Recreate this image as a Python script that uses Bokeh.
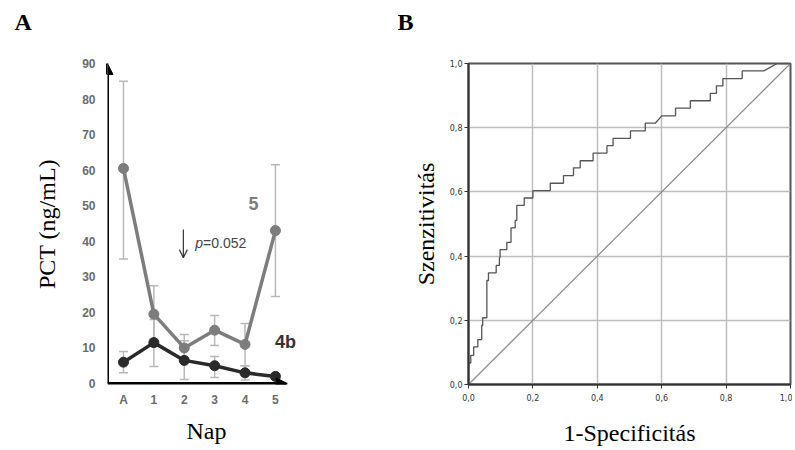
from bokeh.plotting import figure
from bokeh.layouts import row
from bokeh.models import (FixedTicker, Label, Arrow, NormalHead, OpenHead)
from bokeh.embed import file_html
from bokeh.resources import INLINE

# ---------------- Panel A data ----------------
days = ["A", "1", "2", "3", "4", "5"]
day_idx = [0, 1, 2, 3, 4, 5]
pct_grp5 = [60.5, 19.5, 10.0, 15.0, 11.0, 43.0]
pct_grp5_lo = [35.0, 12.5, 6.5, 10.7, 5.0, 24.5]
pct_grp5_hi = [85.0, 27.5, 13.8, 19.1, 16.9, 61.5]
pct_grp4b = [6.0, 11.5, 6.5, 5.0, 3.0, 2.0]
pct_grp4b_lo = [3.0, 4.8, 1.1, 1.7, 1.0, 2.0]
pct_grp4b_hi = [9.0, 18.0, 12.0, 7.6, 5.0, 2.0]
y_ticks_a = [0, 10, 20, 30, 40, 50, 60, 70, 80, 90]

# ---------------- Panel B data (ROC curve vertices) ----------------
roc_fpr = [0, 0, 0.007, 0.007, 0.016, 0.016, 0.029, 0.029, 0.041, 0.041, 0.044, 0.044,
           0.057, 0.057, 0.062, 0.062, 0.086, 0.086, 0.096, 0.096, 0.098, 0.098,
           0.119, 0.119, 0.132, 0.132, 0.145, 0.145, 0.150, 0.150, 0.173, 0.173,
           0.200, 0.200, 0.254, 0.254, 0.295, 0.295, 0.326, 0.326, 0.347, 0.347,
           0.387, 0.387, 0.430, 0.430, 0.449, 0.449, 0.503, 0.503, 0.549, 0.549,
           0.580, 0.600, 0.643, 0.643, 0.689, 0.689, 0.751, 0.751, 0.770, 0.770,
           0.790, 0.790, 0.850, 0.850, 0.917, 0.959, 1.0]
roc_tpr = [0, 0.067, 0.067, 0.091, 0.091, 0.117, 0.117, 0.140, 0.140, 0.184, 0.184, 0.208,
           0.208, 0.324, 0.324, 0.348, 0.348, 0.371, 0.371, 0.395, 0.395, 0.420,
           0.420, 0.443, 0.443, 0.488, 0.488, 0.511, 0.511, 0.558, 0.558, 0.581,
           0.581, 0.604, 0.604, 0.627, 0.627, 0.651, 0.651, 0.675, 0.675, 0.697,
           0.697, 0.721, 0.721, 0.744, 0.744, 0.767, 0.767, 0.790, 0.790, 0.814,
           0.814, 0.837, 0.837, 0.861, 0.861, 0.884, 0.884, 0.907, 0.907, 0.930,
           0.930, 0.953, 0.953, 0.977, 0.977, 1.0, 1.0]
diag = [0, 1]
b_ticks = [0, 0.2, 0.4, 0.6, 0.8, 1.0]
b_tick_labels = ["0,0", "0,2", "0,4", "0,6", "0,8", "1,0"]

SANS = "Liberation Sans"
SERIF = "Liberation Serif"

H = 448


def panel_title(p, text, offset):
    # second (blank) line only reserves room so the letter sits high above the frame
    p.title.text = text + "\n "
    p.title.align = "left"
    p.title.vertical_align = "top"
    p.title.offset = offset
    p.title.standoff = 2
    p.title.text_font = SERIF
    p.title.text_font_style = "bold"
    p.title.text_font_size = "24px"
    p.title.text_color = "black"


# ================= Panel A =================
XL, XR = -0.526, 5.99
X_ARROW = 5.39
YB, YT = -0.28, 90
pA = figure(width=398, height=H, x_range=(XL, XR), y_range=(YB, YT),
            output_backend="svg", toolbar_location=None,
            min_border_left=107, min_border_right=93, min_border_top=63, min_border_bottom=64)
pA.outline_line_color = None
pA.grid.visible = False
pA.background_fill_color = "white"
panel_title(pA, "A", -93)

pA.yaxis.ticker = FixedTicker(ticks=y_ticks_a)
pA.xaxis.ticker = FixedTicker(ticks=day_idx)
pA.xaxis.major_label_overrides = {i: d for i, d in zip(day_idx, days)}
for ax in (pA.xaxis[0], pA.yaxis[0]):
    ax.axis_line_color = None
    ax.major_tick_line_color = None
    ax.major_tick_out = 0
    ax.major_tick_in = 0
    ax.minor_tick_line_color = None
    ax.minor_tick_out = 0
    ax.major_label_text_font = SANS
    ax.major_label_text_font_style = "bold"
    ax.major_label_text_font_size = "12px"
    ax.major_label_text_color = "#6b6b6b"
    ax.axis_label_text_font = SERIF
    ax.axis_label_text_font_style = "normal"
    ax.axis_label_text_font_size = "24px"
    ax.axis_label_text_color = "black"
pA.yaxis.axis_label = "PCT (ng/mL)"
pA.xaxis.axis_label = "Nap"
pA.yaxis.major_label_standoff = 12
pA.xaxis.major_label_standoff = 8
pA.yaxis.axis_label_standoff = 19
pA.xaxis.axis_label_standoff = 8

# error bars
err_col = "#b8b8b8"
pA.segment(x0=day_idx, y0=pct_grp5_lo, x1=day_idx, y1=pct_grp5_hi, line_color=err_col, line_width=1.5)
pA.dash(x=day_idx, y=pct_grp5_lo, size=9, line_color=err_col, line_width=1.5)
pA.dash(x=day_idx, y=pct_grp5_hi, size=9, line_color=err_col, line_width=1.5)
e_idx = day_idx[:5]
pA.segment(x0=e_idx, y0=pct_grp4b_lo[:5], x1=e_idx, y1=pct_grp4b_hi[:5], line_color=err_col, line_width=1.5)
pA.dash(x=e_idx, y=pct_grp4b_lo[:5], size=9, line_color=err_col, line_width=1.5)
pA.dash(x=e_idx, y=pct_grp4b_hi[:5], size=9, line_color=err_col, line_width=1.5)

# series
g5 = "#7d7d7d"
g4 = "#2a2a2a"
pA.line(day_idx, pct_grp5, line_color=g5, line_width=3.5)
pA.scatter(day_idx, pct_grp5, size=10, fill_color=g5, line_color=g5)
pA.line(day_idx, pct_grp4b, line_color=g4, line_width=3.5)
pA.scatter(day_idx, pct_grp4b, size=10, fill_color=g4, line_color=g4)

# axes with arrow heads
pA.add_layout(Arrow(end=NormalHead(size=11, fill_color="black", line_color="black"),
                    x_start=XL, y_start=0, x_end=X_ARROW, y_end=0,
                    line_color="black", line_width=3))
pA.add_layout(Arrow(end=NormalHead(size=11, fill_color="black", line_color="black"),
                    x_start=XL, y_start=0, x_end=XL, y_end=YT,
                    line_color="black", line_width=3))

# annotations
pA.add_layout(Label(x=4.28, y=50.6, text="5", text_font=SANS, text_font_style="bold",
                    text_font_size="18px", text_color=g5, text_align="center", text_baseline="middle"))
pA.add_layout(Label(x=5.33, y=11.8, text="4b", text_font=SANS, text_font_style="bold",
                    text_font_size="18px", text_color="#333333", text_align="center", text_baseline="middle"))
pA.add_layout(Arrow(end=OpenHead(size=8, line_color="#333333", line_width=1.2),
                    x_start=1.97, y_start=43.3, x_end=1.97, y_end=35.4,
                    line_color="#333333", line_width=1.2))
pA.add_layout(Label(x=2.36, y=39.4, text="p", text_font=SANS, text_font_style="italic",
                    text_font_size="14px", text_color="#444444", text_align="left", text_baseline="middle"))
pA.add_layout(Label(x=2.62, y=39.4, text="=0.052", text_font=SANS,
                    text_font_size="14px", text_color="#444444", text_align="left", text_baseline="middle"))

# ================= Panel B =================
pB = figure(width=394, height=H, x_range=(0, 1), y_range=(0, 1),
            output_backend="svg", toolbar_location=None,
            min_border_left=70, min_border_right=2, min_border_top=63, min_border_bottom=64)
pB.background_fill_color = "white"
pB.outline_line_color = "#555555"
pB.outline_line_width = 2
panel_title(pB, "B", -71)
pB.xaxis.ticker = FixedTicker(ticks=b_ticks)
pB.yaxis.ticker = FixedTicker(ticks=b_ticks)
pB.xaxis.major_label_overrides = {t: l for t, l in zip(b_ticks, b_tick_labels)}
pB.yaxis.major_label_overrides = {t: l for t, l in zip(b_ticks, b_tick_labels)}
pB.grid.ticker = FixedTicker(ticks=b_ticks)
pB.grid.grid_line_color = "#bdbdbd"
pB.grid.grid_line_width = 1.5
for ax in (pB.xaxis[0], pB.yaxis[0]):
    ax.axis_line_color = "#333333"
    ax.axis_line_width = 2
    ax.major_tick_line_color = "#333333"
    ax.major_tick_out = 4
    ax.major_tick_in = 0
    ax.minor_tick_line_color = None
    ax.minor_tick_out = 0
    ax.major_label_text_font = "DejaVu Sans"
    ax.major_label_text_font_size = "8px"
    ax.major_label_text_color = "#333333"
    ax.axis_label_text_font = SERIF
    ax.axis_label_text_font_style = "normal"
    ax.axis_label_text_font_size = "24px"
    ax.axis_label_text_color = "black"
pB.yaxis.major_label_standoff = 2
pB.xaxis.major_label_standoff = 5
pB.yaxis.axis_label = "Szenzitivitás"
pB.xaxis.axis_label = "1-Specificitás"
pB.yaxis.axis_label_standoff = 8
pB.xaxis.axis_label_standoff = 16

pB.line(diag, diag, line_color="#8a8a8a", line_width=1.2)
pB.line(roc_fpr, roc_tpr, line_color="#555555", line_width=1.3)

layout = row(pA, pB)
open("out.html", "w").write(file_html(layout, INLINE))
